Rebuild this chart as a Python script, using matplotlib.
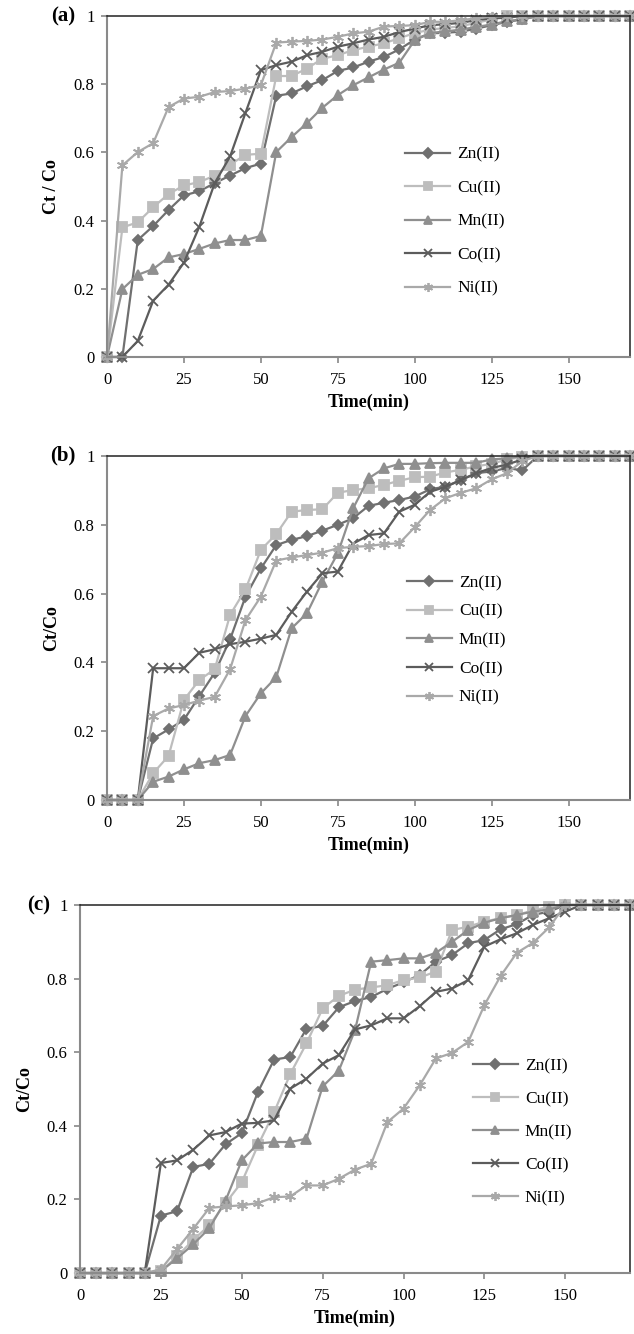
import matplotlib
matplotlib.use("Agg")
import matplotlib.pyplot as plt

plt.rcParams['font.family'] = ['Liberation Serif', 'DejaVu Serif']

# sampling times (min)
time = [0, 5, 10, 15, 20, 25, 30, 35, 40, 45, 50, 55, 60, 65, 70, 75, 80, 85,
        90, 95, 100, 105, 110, 115, 120, 125, 130, 135, 140, 145, 150, 155,
        160, 165, 170]

metals = ['Zn(II)', 'Cu(II)', 'Mn(II)', 'Co(II)', 'Ni(II)']

# panel (a)
zn_a = [0, 0, 0.343, 0.384, 0.431, 0.474, 0.486, 0.51, 0.532, 0.554, 0.567, 0.766,
        0.773, 0.794, 0.812, 0.839, 0.849, 0.866, 0.88, 0.902, 0.931, 0.949, 0.951,
        0.954, 0.963, 0.973, 0.983, 0.99, 1, 1, 1, 1, 1, 1, 1]
cu_a = [0, 0.38, 0.395, 0.439, 0.478, 0.503, 0.513, 0.532, 0.564, 0.593, 0.596, 0.824,
        0.824, 0.846, 0.875, 0.885, 0.90, 0.91, 0.92, 0.935, 0.95, 0.96, 0.965,
        0.97, 0.98, 0.99, 1, 1, 1, 1, 1, 1, 1, 1, 1]
mn_a = [0, 0.199, 0.241, 0.258, 0.292, 0.302, 0.317, 0.333, 0.343, 0.343, 0.355, 0.601,
        0.645, 0.686, 0.731, 0.768, 0.797, 0.82, 0.843, 0.863, 0.929, 0.95, 0.955,
        0.96, 0.968, 0.975, 0.985, 0.99, 1, 1, 1, 1, 1, 1, 1]
co_a = [0, 0, 0.047, 0.165, 0.212, 0.277, 0.382, 0.51, 0.588, 0.716, 0.841, 0.856,
        0.866, 0.885, 0.895, 0.91, 0.92, 0.931, 0.939, 0.953, 0.963, 0.973, 0.976,
        0.98, 0.988, 0.993, 0.995, 1, 1, 1, 1, 1, 1, 1, 1]
ni_a = [0, 0.562, 0.601, 0.627, 0.733, 0.758, 0.763, 0.777, 0.78, 0.787, 0.797, 0.922,
        0.925, 0.927, 0.931, 0.939, 0.949, 0.954, 0.969, 0.971, 0.973, 0.983, 0.983,
        0.988, 0.993, 0.998, 1, 1, 1, 1, 1, 1, 1, 1, 1]

# panel (b)
zn_b = [0, 0, 0, 0.179, 0.205, 0.233, 0.302, 0.37, 0.467, 0.591, 0.673, 0.741,
        0.756, 0.767, 0.783, 0.80, 0.819, 0.855, 0.864, 0.872, 0.882, 0.903, 0.911,
        0.93, 0.95, 0.955, 0.965, 0.958, 1, 1, 1, 1, 1, 1, 1]
cu_b = [0, 0, 0, 0.078, 0.128, 0.291, 0.349, 0.38, 0.538, 0.612, 0.727, 0.773,
        0.838, 0.843, 0.845, 0.893, 0.901, 0.906, 0.916, 0.928, 0.938, 0.94, 0.952,
        0.96, 0.97, 0.977, 0.99, 0.997, 1, 1, 1, 1, 1, 1, 1]
mn_b = [0, 0, 0, 0.053, 0.068, 0.089, 0.107, 0.116, 0.131, 0.244, 0.31, 0.357,
        0.499, 0.543, 0.635, 0.717, 0.848, 0.935, 0.964, 0.977, 0.977, 0.979, 0.98,
        0.98, 0.98, 0.99, 0.993, 1, 1, 1, 1, 1, 1, 1, 1]
co_b = [0, 0, 0, 0.383, 0.383, 0.383, 0.428, 0.438, 0.453, 0.46, 0.469, 0.48,
        0.547, 0.606, 0.659, 0.664, 0.745, 0.77, 0.775, 0.838, 0.858, 0.896, 0.91,
        0.93, 0.95, 0.965, 0.975, 0.99, 1, 1, 1, 1, 1, 1, 1]
ni_b = [0, 0, 0, 0.244, 0.266, 0.276, 0.289, 0.30, 0.38, 0.523, 0.591, 0.696,
        0.705, 0.712, 0.719, 0.732, 0.736, 0.738, 0.744, 0.746, 0.793, 0.843, 0.877,
        0.893, 0.906, 0.932, 0.95, 0.985, 1, 1, 1, 1, 1, 1, 1]

# panel (c)
zn_c = [0, 0, 0, 0, 0, 0.156, 0.168, 0.288, 0.297, 0.35, 0.38, 0.492,
        0.58, 0.587, 0.664, 0.671, 0.722, 0.739, 0.75, 0.772, 0.79, 0.81, 0.846,
        0.864, 0.896, 0.905, 0.934, 0.948, 0.973, 0.982, 1, 1, 1, 1, 1]
cu_c = [0, 0, 0, 0, 0, 0.005, 0.045, 0.09, 0.13, 0.19, 0.247, 0.347,
        0.437, 0.541, 0.624, 0.719, 0.753, 0.77, 0.776, 0.782, 0.796, 0.803, 0.819,
        0.932, 0.941, 0.955, 0.964, 0.973, 0.985, 0.995, 1, 1, 1, 1, 1]
mn_c = [0, 0, 0, 0, 0, 0.005, 0.04, 0.078, 0.122, 0.197, 0.306, 0.352,
        0.356, 0.356, 0.365, 0.507, 0.55, 0.66, 0.846, 0.85, 0.855, 0.855, 0.87,
        0.9, 0.932, 0.952, 0.964, 0.973, 0.982, 0.988, 1, 1, 1, 1, 1]
co_c = [0, 0, 0, 0, 0, 0.299, 0.306, 0.335, 0.374, 0.383, 0.406, 0.408,
        0.415, 0.501, 0.528, 0.569, 0.592, 0.662, 0.673, 0.692, 0.692, 0.725, 0.764,
        0.773, 0.796, 0.887, 0.907, 0.923, 0.946, 0.964, 0.982, 1, 1, 1, 1]
ni_c = [0, 0, 0, 0, 0, 0.01, 0.065, 0.12, 0.177, 0.181, 0.184, 0.19,
        0.206, 0.208, 0.238, 0.238, 0.256, 0.281, 0.297, 0.41, 0.447, 0.51, 0.583,
        0.598, 0.628, 0.728, 0.807, 0.87, 0.897, 0.939, 1, 1, 1, 1, 1]

colors = ['#707070', '#bdbdbd', '#8f8f8f', '#5c5c5c', '#a9a9a9']
markers = ['D', 's', '^', 'x', (6, 2, 0)]
msizes = [5, 6.5, 6.5, 7, 8]
leg_msizes = [5, 5.5, 5.5, 5.5, 6.5]


def draw_panel(ax, series, tag, ylabel, leg_anchor, leg_spacing, tag_x):
    for vals, name, c, m, ms in zip(series, metals, colors, markers, msizes):
        ax.plot(time, vals, color=c, marker=m, markersize=ms, linewidth=1.6,
                markeredgewidth=1.3, markeredgecolor=c, label=name, clip_on=False)
    ax.set_xlim(0, 170)
    ax.set_ylim(0, 1)
    ax.set_xticks([0, 25, 50, 75, 100, 125, 150])
    ax.set_yticks([0, 0.2, 0.4, 0.6, 0.8, 1])
    ax.set_yticklabels(['0', '0.2', '0.4', '0.6', '0.8', '1'])
    ax.tick_params(labelsize=12, color='#888888', length=4, width=1.2, pad=5)
    ax.tick_params(axis='x', pad=7)
    for s in ['left', 'bottom']:
        ax.spines[s].set_color('#8a8a8a')
        ax.spines[s].set_linewidth(1.5)
    for s in ['top', 'right']:
        ax.spines[s].set_color('#222222')
        ax.spines[s].set_linewidth(1.1)
    ax.set_xlabel('Time(min)', fontsize=13, fontweight='bold', labelpad=4)
    ax.set_ylabel(ylabel, fontsize=13, fontweight='bold', labelpad=10)
    ax.text(tag_x, 1.0, tag, transform=ax.transAxes, fontsize=15,
            fontweight='bold', ha='right', va='center')
    leg = ax.legend(loc='center left', bbox_to_anchor=leg_anchor, frameon=False,
                    fontsize=12.5, handlelength=2.6, handletextpad=0.4,
                    labelspacing=leg_spacing, borderpad=0, borderaxespad=0)
    for h, ms in zip(leg.legend_handles, leg_msizes):
        h.set_markersize(ms)


fig = plt.figure(figsize=(6.34, 13.34), dpi=100)

ax_a = fig.add_axes([0.1688, 0.7324, 0.825, 0.2556])
draw_panel(ax_a, [zn_a, cu_a, mn_a, co_a, ni_a], '(a)', 'Ct / Co',
           (0.57, 0.397), 1.0, -0.06)

ax_b = fig.add_axes([0.1688, 0.4003, 0.825, 0.2579])
draw_panel(ax_b, [zn_b, cu_b, mn_b, co_b, ni_b], '(b)', 'Ct/Co',
           (0.573, 0.464), 0.72, -0.06)

ax_c = fig.add_axes([0.1262, 0.0457, 0.8675, 0.2759])
draw_panel(ax_c, [zn_c, cu_c, mn_c, co_c, ni_c], '(c)', 'Ct/Co',
           (0.714, 0.383), 0.97, -0.055)

fig.savefig('out.png', dpi=100)
